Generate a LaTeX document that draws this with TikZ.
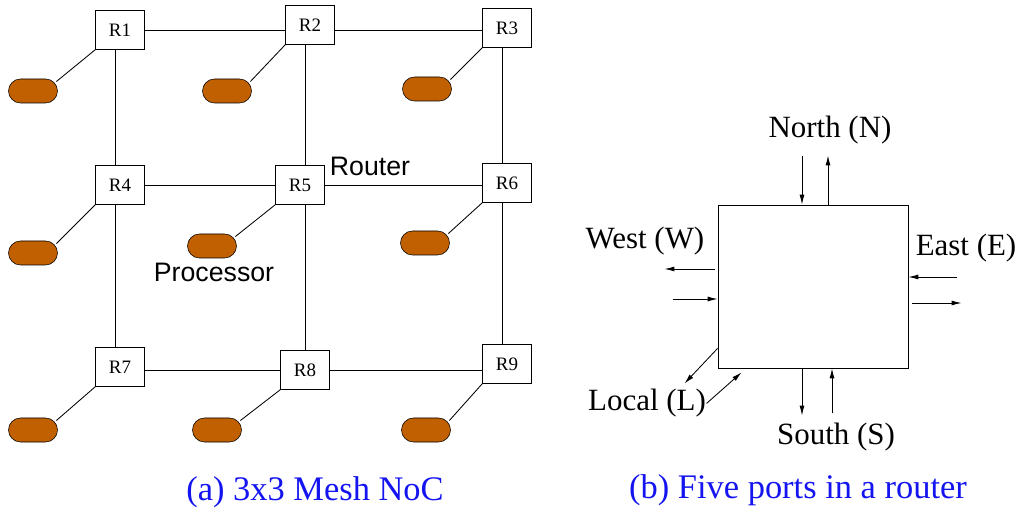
\documentclass[tikz,border=0pt]{standalone}
\usepackage{fontspec}
\setmainfont{Liberation Serif}
\setsansfont{Liberation Sans}
\usetikzlibrary{arrows.meta}

\begin{document}
\begin{tikzpicture}[
  x=0.025cm, y=-0.025cm,
  rtr/.style={draw, fill=white, minimum width=1.225cm, minimum height=0.975cm, inner sep=0pt, font=\fontsize{13.5}{14}\selectfont},
  proc/.style={draw, fill=procc, rounded corners=0.3cm, minimum width=1.225cm, minimum height=0.6cm, inner sep=0pt},
  link/.style={line width=0.6pt},
  arr/.style={-{Latex[length=7pt, width=3.5pt]}, line width=0.6pt},
  lbl/.style={font=\fontsize{22}{24}\selectfont, inner sep=0pt},
  sfl/.style={font=\sffamily\fontsize{19}{21}\selectfont, inner sep=0pt},
  captxt/.style={font=\fontsize{24.5}{26}\selectfont, text=capc, inner sep=0pt},
]
\definecolor{procc}{RGB}{192,96,0}
\definecolor{capc}{RGB}{20,20,240}
\useasboundingbox (0,0) rectangle (1022,510);

% --- (a) 3x3 mesh ---
\node[rtr] (r1) at (120,30) {R1};
\node[rtr] (r2) at (310,25) {R2};
\node[rtr] (r3) at (507,28) {R3};
\node[rtr] (r4) at (120,185) {R4};
\node[rtr] (r5) at (300,185) {R5};
\node[rtr] (r6) at (507,183) {R6};
\node[rtr] (r7) at (120,367) {R7};
\node[rtr] (r8) at (305,370) {R8};
\node[rtr] (r9) at (507,364) {R9};

% rows
\draw[link] (r1.east) -- (r2.west |- r1.east);
\draw[link] (r2.east |- r1.east) -- (r3.west |- r1.east);
\draw[link] (r4.east) -- (r5.west);
\draw[link] (r5.east) -- (r6.west |- r5.east);
\draw[link] (r7.east |- r8.west) -- (r8.west);
\draw[link] (r8.east) -- (r9.west |- r8.east);

% columns
\draw[link] ([xshift=-0.125cm]r1.south) -- ([xshift=-0.125cm]r4.north);
\draw[link] ([xshift=-0.125cm]r4.south) -- ([xshift=-0.125cm]r7.north);
\draw[link] (r2.south -| r8.north) -- (r5.north -| r8.north);
\draw[link] (r5.south -| r8.north) -- (r8.north);
\draw[link] ([xshift=-0.125cm]r3.south) -- ([xshift=-0.125cm]r6.north);
\draw[link] ([xshift=-0.125cm]r6.south) -- ([xshift=-0.125cm]r9.north);

% processors
\node[proc] (p1) at (33,91) {};
\node[proc] (p2) at (227,91) {};
\node[proc] (p3) at (427,89) {};
\node[proc] (p4) at (33,253) {};
\node[proc] (p5) at (212,246) {};
\node[proc] (p6) at (425,243) {};
\node[proc] (p7) at (33,430) {};
\node[proc] (p8) at (217,430) {};
\node[proc] (p9) at (426,430) {};

\foreach \i in {1,...,9}
  \draw[link] ([xshift=-1pt, yshift=-2pt]p\i.north east) -- (r\i.south west);

\node[sfl] (rlbl) at (370,166) {Router};
\node[sfl] (plbl) at (214,272) {Processor};

\node[captxt] (capa) at (315,492) {(a) 3x3 Mesh NoC};

% --- (b) router ports ---
\node[draw, minimum width=4.75cm, minimum height=4.075cm, line width=0.6pt] (rb) at (813,286.5) {};

\draw[arr] ([xshift=-0.275cm, yshift=1.225cm]rb.north) -- ([xshift=-0.275cm]rb.north);
\draw[arr] ([xshift=0.375cm]rb.north) -- ++(0cm,1.225cm);
\draw[arr] ([xshift=-0.075cm, yshift=0.4375cm]rb.west) -- ++(-1.25cm,0cm);
\draw[arr] ([xshift=-1.125cm, yshift=-0.3125cm]rb.west) -- ([yshift=-0.3125cm]rb.west);
\draw[arr] ([xshift=1.225cm, yshift=0.2375cm]rb.east) -- ([yshift=0.2375cm]rb.east);
\draw[arr] ([xshift=0.1cm, yshift=-0.4125cm]rb.east) -- ++(1.225cm,0cm);
\draw[arr] ([xshift=-0.275cm]rb.south) -- ++(0cm,-1.175cm);
\draw[arr] ([xshift=0.475cm, yshift=-1.125cm]rb.south) -- ([xshift=0.475cm]rb.south);
\draw[arr] ([yshift=0.5cm]rb.south west) -- ++(-0.825cm,-0.875cm);
\draw[arr] ([xshift=-0.275cm, yshift=-0.875cm]rb.south west) -- ([xshift=0.6cm, yshift=-0.1cm]rb.south west);

\node[lbl] (nl) at (830,130) {North (N)};
\node[lbl] (wl) at (645,241) {West (W)};
\node[lbl] (el) at (966,248) {East (E)};
\node[lbl] (ll) at (647,403) {Local (L)};
\node[lbl] (sl) at (836,437) {South (S)};

\node[captxt] (capb) at (798,490) {(b) Five ports in a router};

\end{tikzpicture}
\end{document}
